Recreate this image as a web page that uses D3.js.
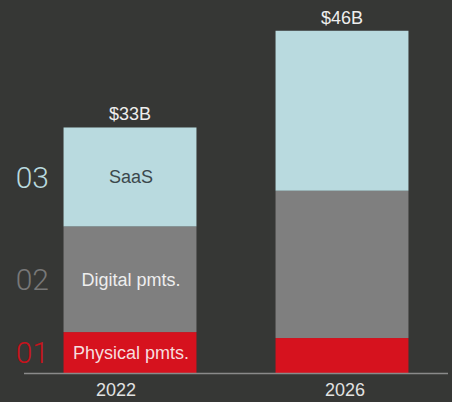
<!DOCTYPE html>
<html>
<head>
<meta charset="utf-8">
<script src="https://cdn.jsdelivr.net/npm/d3@7"></script>
<style>
  html, body { margin: 0; padding: 0; background: #363735; }
  svg { display: block; }
</style>
</head>
<body>
<svg id="chart" width="452" height="402"></svg>
<script>
// Revenue pool by segment, $B
const years = ["2022", "2026"];
const segmentKeys = ["physical", "digital", "saas"];
const segmentNames = ["Physical pmts.", "Digital pmts.", "SaaS"];
const segmentIndex = ["01", "02", "03"];
const physical = [5.5, 4.7];
const digital = [14.2, 19.8];
const saas = [13.3, 21.5];
const totals = [33, 46];
const totalLabels = ["$33B", "$46B"];

const W = 452, H = 402;
const baseY = 373;
const colors = { physical: "#d6121e", digital: "#7f7f7f", saas: "#b9dadf" };
const indexColors = { physical: "#c8121c", digital: "#787878", saas: "#b9dadf" };
const innerText = { physical: "#f6dede", digital: "#eeeeee", saas: "#3b484c" };

const rows = years.map((y, i) => ({
  year: y, physical: physical[i], digital: digital[i], saas: saas[i], total: totals[i], label: totalLabels[i]
}));

const svg = d3.select("#chart");

const x = d3.scaleBand().domain(years).range([24, 448]).paddingInner(0.373).paddingOuter(0.1865);
const y = d3.scaleLinear().domain([0, 50]).range([baseY, 1]);
// year captions sit on their own positions along the baseline
const xLabel = d3.scalePoint().domain(years).range([116, 345]);

const stacked = d3.stack().keys(segmentKeys)(rows);

const layers = svg.selectAll("g.layer").data(stacked).join("g")
  .attr("class", "layer")
  .attr("fill", d => colors[d.key]);

layers.selectAll("rect").data(d => d).join("rect")
  .attr("x", d => x(d.data.year))
  .attr("width", x.bandwidth())
  .attr("y", d => y(d[1]))
  .attr("height", d => y(d[0]) - y(d[1]));

// segment names inside the first bar
const first = stacked.map(s => ({ key: s.key, seg: s[0] }));
svg.append("g").selectAll("text").data(first).join("text")
  .attr("x", d => x(d.seg.data.year) + x.bandwidth() / 2 + 1)
  .attr("y", d => (y(d.seg[0]) + y(d.seg[1])) / 2)
  .attr("dy", "0.36em")
  .attr("text-anchor", "middle")
  .attr("font-family", "'Liberation Sans', Arial, sans-serif")
  .attr("font-size", 18)
  .attr("fill", d => innerText[d.key])
  .text(d => segmentNames[segmentKeys.indexOf(d.key)]);

// index numbers to the left, level with the first bar's segments
svg.append("g").selectAll("text").data(first).join("text")
  .attr("x", 49)
  .attr("y", d => (y(d.seg[0]) + y(d.seg[1])) / 2)
  .attr("dy", "0.36em")
  .attr("text-anchor", "end")
  .attr("font-family", "Roboto, 'Liberation Sans', sans-serif")
  .attr("font-weight", 300)
  .attr("font-size", 30)
  .attr("fill", d => indexColors[d.key])
  .text(d => segmentIndex[segmentKeys.indexOf(d.key)]);

// totals above bars
svg.append("g").selectAll("text").data(rows).join("text")
  .attr("x", d => x(d.year) + x.bandwidth() / 2)
  .attr("y", d => y(d.total) - 7)
  .attr("text-anchor", "middle")
  .attr("font-family", "'Liberation Sans', Arial, sans-serif")
  .attr("font-size", 18)
  .attr("fill", "#eeeeee")
  .text(d => d.label);

// baseline
svg.append("line")
  .attr("x1", x.range()[0]).attr("x2", x.range()[1])
  .attr("y1", baseY + 0.5).attr("y2", baseY + 0.5)
  .attr("stroke", "#8a8a8a").attr("stroke-width", 1.3);

// year captions
svg.append("g").selectAll("text").data(years).join("text")
  .attr("x", d => xLabel(d))
  .attr("y", 396)
  .attr("text-anchor", "middle")
  .attr("font-family", "'Liberation Sans', Arial, sans-serif")
  .attr("font-size", 18)
  .attr("fill", "#e2e2e2")
  .text(d => d);
</script>
</body>
</html>
